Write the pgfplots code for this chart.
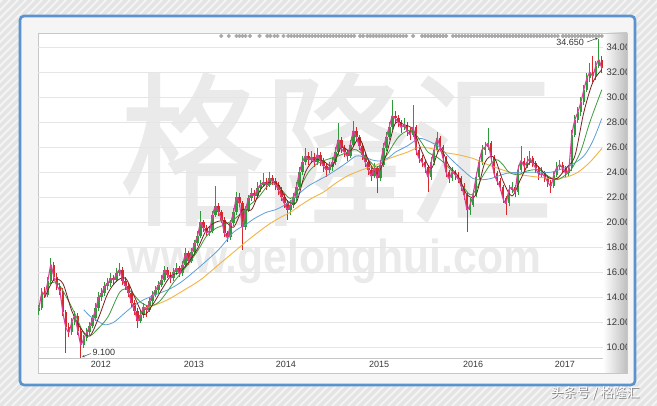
\documentclass[border=0pt]{standalone}
\usepackage{pgfplots}
\pgfplotsset{compat=1.18}
\usepackage{pgfplotstable}
\usepackage{fontspec}
\setmainfont{Liberation Sans}
\newfontfamily\cjk{Noto Sans CJK SC}
\newfontfamily\cjkwm{Noto Sans CJK SC}[FakeBold=1.2]
\usetikzlibrary{arrows.meta}
\definecolor{cRed}{HTML}{D42A2A}
\definecolor{cGreen}{HTML}{2E9B3A}
\definecolor{cPink}{HTML}{E43C9E}
\definecolor{cBrown}{HTML}{7A2020}
\definecolor{cMA}{HTML}{3E9A3E}
\definecolor{cBlue}{HTML}{5E9FD8}
\definecolor{cOrange}{HTML}{F2B544}
\definecolor{frameBlue}{HTML}{5B93CE}
\definecolor{bgGray}{HTML}{E4E4E4}
\definecolor{wm}{HTML}{EAEAEA}
\definecolor{dotGray}{HTML}{A8A8A8}

\pgfplotstableread{
k o h l c
0 12.9 13.4 12.6 13.1
1 13.1 14.7 13.0 14.4
2 14.4 14.8 13.9 14.2
3 14.2 15.6 14.0 15.3
4 15.3 17.1 15.1 16.6
5 16.6 16.8 15.3 15.6
6 15.6 15.9 14.6 14.9
7 14.9 15.1 14.2 14.5
8 14.5 14.7 12.5 12.8
9 12.8 13.0 9.5 11.6
10 11.6 11.9 10.8 11.2
11 11.2 12.3 11.0 12.0
12 12.0 12.9 11.8 12.5
13 12.5 12.7 11.0 11.3
14 11.3 11.5 9.1 10.2
15 10.2 11.0 9.9 10.7
16 10.7 11.5 10.5 11.2
17 11.2 12.0 11.0 11.7
18 11.7 12.6 11.5 12.3
19 12.3 13.5 12.1 13.1
20 13.1 14.4 12.9 14.0
21 14.0 14.7 13.7 14.3
22 14.3 15.2 14.1 14.9
23 14.9 15.5 14.6 15.1
24 15.1 15.9 14.8 15.5
25 15.5 15.8 15.0 15.4
26 15.4 16.3 15.2 15.9
27 15.9 16.7 15.7 16.2
28 16.2 16.4 15.0 15.3
29 15.3 15.6 14.6 14.9
30 14.9 15.1 14.0 14.3
31 14.3 14.5 13.2 13.5
32 13.5 13.8 12.6 12.9
33 12.9 13.1 11.5 12.1
34 12.1 12.9 11.9 12.6
35 12.6 13.5 12.3 13.2
36 13.2 13.4 12.4 13.0
37 13.0 14.0 12.8 13.7
38 13.7 14.5 13.4 14.2
39 14.2 14.9 14.0 14.6
40 14.6 15.3 14.3 15.0
41 15.0 15.8 14.8 15.4
42 15.4 16.5 15.2 16.2
43 16.2 16.4 15.5 15.8
44 15.8 16.0 15.1 15.5
45 15.5 16.3 15.3 16.0
46 16.0 16.7 15.8 16.3
47 16.3 16.5 15.6 15.9
48 15.9 16.9 15.7 16.6
49 16.6 17.9 16.4 17.5
50 17.5 17.7 16.6 16.9
51 16.9 17.9 16.7 17.6
52 17.6 18.6 17.4 18.3
53 18.3 19.3 18.1 18.9
54 18.9 20.9 18.7 20.0
55 20.0 20.2 19.2 19.5
56 19.5 19.8 18.9 19.2
57 19.2 19.7 18.9 19.3
58 19.3 20.9 19.1 20.6
59 20.6 22.9 20.4 21.3
60 21.3 21.5 20.5 20.8
61 20.8 21.0 19.9 20.2
62 20.2 20.4 18.8 19.1
63 19.1 19.3 18.4 18.8
64 18.8 20.2 18.6 19.9
65 19.9 21.1 19.7 20.8
66 20.8 22.4 20.6 22.0
67 22.0 22.3 21.2 21.5
68 21.5 21.7 17.8 19.6
69 19.6 21.3 19.4 21.0
70 21.0 22.2 20.8 21.9
71 21.9 22.7 21.7 22.3
72 22.3 22.6 21.7 22.1
73 22.1 23.2 21.9 22.7
74 22.7 23.4 22.4 23.0
75 23.0 23.9 22.8 23.2
76 23.2 23.5 22.6 23.0
77 23.0 24.0 22.8 23.5
78 23.5 23.8 23.0 23.3
79 23.3 23.5 22.6 23.0
80 23.0 23.2 22.2 22.6
81 22.6 22.8 21.7 22.0
82 22.0 22.3 21.1 21.5
83 21.5 21.8 20.2 21.0
84 21.0 21.8 20.6 21.4
85 21.4 22.3 21.1 21.9
86 21.9 23.2 21.7 22.8
87 22.8 24.4 22.6 24.0
88 24.0 25.3 23.8 24.8
89 24.8 25.9 24.6 25.3
90 25.3 25.6 24.6 25.0
91 25.0 25.7 24.7 25.2
92 25.2 25.5 24.4 24.8
93 24.8 25.9 24.6 25.4
94 25.4 25.6 24.5 24.9
95 24.9 25.1 24.0 24.5
96 24.5 24.7 23.6 24.2
97 24.2 24.8 23.9 24.4
98 24.4 25.2 24.1 24.8
99 24.8 26.0 24.6 25.6
100 25.6 27.9 25.4 26.6
101 26.6 26.8 25.5 25.9
102 25.9 26.2 25.2 25.6
103 25.6 25.8 24.9 25.3
104 25.3 26.6 25.1 26.2
105 26.2 28.1 26.0 27.3
106 27.3 27.6 26.5 26.8
107 26.8 27.0 25.8 26.1
108 26.1 26.3 25.0 25.4
109 25.4 25.6 24.4 24.8
110 24.8 25.0 23.8 24.2
111 24.2 24.4 23.3 23.7
112 23.7 24.7 23.5 24.3
113 24.3 24.5 22.3 23.5
114 23.5 25.0 23.3 24.6
115 24.6 26.3 24.4 25.9
116 25.9 27.2 25.7 26.8
117 26.8 28.0 26.6 27.6
118 27.6 29.8 27.4 28.5
119 28.5 28.9 27.9 28.3
120 28.3 28.6 27.6 28.0
121 28.0 28.2 27.1 27.6
122 27.6 28.3 27.4 27.8
123 27.8 28.0 26.9 27.3
124 27.3 27.5 26.6 27.0
125 27.0 29.4 26.8 27.6
126 27.6 27.8 25.4 25.8
127 25.8 26.0 24.7 25.1
128 25.1 25.4 24.4 24.8
129 24.8 25.0 23.9 24.4
130 24.4 24.6 22.4 23.6
131 23.6 25.2 23.4 24.8
132 24.8 26.2 24.6 25.8
133 25.8 27.2 25.6 26.7
134 26.7 26.9 25.7 26.0
135 26.0 26.2 24.8 25.1
136 25.1 25.3 23.6 24.0
137 24.0 24.2 23.1 23.5
138 23.5 24.4 23.3 24.0
139 24.0 24.2 23.4 23.8
140 23.8 24.0 23.1 23.5
141 23.5 23.7 22.5 22.9
142 22.9 23.1 21.8 22.2
143 22.2 22.4 19.2 21.0
144 21.0 21.9 20.6 21.4
145 21.4 22.6 21.2 22.2
146 22.2 24.0 22.0 23.6
147 23.6 25.2 23.4 24.8
148 24.8 26.2 24.6 25.8
149 25.8 26.4 25.4 26.0
150 26.0 27.5 25.8 26.3
151 26.3 26.5 24.8 25.2
152 25.2 25.4 23.6 23.9
153 23.9 24.1 23.0 23.3
154 23.3 23.5 22.5 22.8
155 22.8 23.0 21.5 21.9
156 21.9 22.1 20.6 21.5
157 21.5 23.0 21.3 22.6
158 22.6 23.2 22.3 22.8
159 22.8 23.0 22.0 22.4
160 22.4 24.6 22.2 24.2
161 24.2 26.1 24.0 24.9
162 24.9 25.1 24.1 24.5
163 24.5 25.3 24.3 24.8
164 24.8 25.7 24.6 25.1
165 25.1 25.3 24.4 24.7
166 24.7 24.9 23.9 24.3
167 24.3 24.5 23.4 23.8
168 23.8 24.4 23.6 23.9
169 23.9 24.1 23.2 23.6
170 23.6 23.8 22.8 23.2
171 23.2 23.4 22.3 22.9
172 22.9 24.1 22.7 23.8
173 23.8 24.8 23.6 24.4
174 24.4 25.0 24.2 24.6
175 24.6 24.8 23.9 24.3
176 24.3 24.5 23.6 23.9
177 23.9 24.6 23.7 24.3
178 24.3 27.4 24.1 27.0
179 27.0 28.6 26.8 28.2
180 28.2 29.2 27.9 28.8
181 28.8 30.0 28.5 29.6
182 29.6 31.0 29.4 30.6
183 30.6 31.9 30.4 31.5
184 31.5 32.7 31.2 32.0
185 32.0 33.3 31.2 31.7
186 31.7 32.9 31.4 32.5
187 32.5 34.65 32.3 33.0
188 33.0 33.3 31.9 32.3
}\candles

\begin{document}
\begin{tikzpicture}[x=1pt,y=1pt]
\clip (0,0) rectangle (657,406);
% page background with diagonal stripes
\fill[bgGray] (0,0) rectangle (657,406);
\foreach \i in {-420,-412,...,660} \draw[white, opacity=0.6, line width=1.8pt] (\i,0) -- ++(406,406);
% blue frame
\draw[frameBlue, line width=2.6pt, fill=black!4, rounded corners=4pt] (20,21) rectangle (635,390);
% plot area, label strips
\fill[white] (38,33) rectangle (603,373);
\shade[left color=white, right color=black!25] (603,33) rectangle (627,373);
\draw[black!22, line width=0.5pt] (38,33) rectangle (627,373);
\draw[black!22, line width=0.5pt] (38,48) -- (603,48);
% watermark
\node[text=wm, inner sep=0pt] at (336.5,257) {\scalebox{0.875}[1]{\fontsize{165pt}{165pt}\selectfont\cjkwm 格隆汇}};
\node[text=wm, inner sep=0pt, anchor=base] at (334.5,132) {\scalebox{1}[1.12]{\resizebox{413pt}{!}{\bfseries www.gelonghui.com}}};
% caption
\node[text=black!50] at (596,12.2) {\fontsize{13}{13}\selectfont\cjk 头条号 / 格隆汇};
\node[text=white] at (595.2,13) {\fontsize{13}{13}\selectfont\cjk 头条号 / 格隆汇};
\begin{scope}
\clip (0,0) rectangle (626,406);
\begin{axis}[
  at={(38pt,48pt)}, anchor=south west, scale only axis,
  width=565pt, height=325pt,
  xmin=-0.3, xmax=188.4, ymin=9.14, ymax=35.14,
  axis line style={draw=none},
  tick style={draw=none},
  ytick={10,12,...,34}, yticklabel pos=right,
  ymajorgrids, grid style={draw=black!10, line width=0.5pt},
  yticklabel style={font=\fontsize{9.5}{10}\selectfont, text=black!78,
    /pgf/number format/.cd, fixed, fixed zerofill, precision=2, assume math mode=true},
  xtick={20.74,51.8,82.5,113.6,145.0,175.7},
  xticklabels={2012,2013,2014,2015,2016,2017},
  xticklabel style={font=\fontsize{9}{10}\selectfont, text=black!78},
  clip=true,
]
% event dots along top
\addplot[dotGray, only marks, mark=*, mark size=1.9pt, mark options={draw=dotGray, fill=dotGray}] coordinates {
(60.9,34.9)(63.4,34.9)(66,34.9)(67,34.9)(68,34.9)(69,34.9)(70.5,34.9)(73.7,34.9)(76.3,34.9)(77.3,34.9)(78.7,34.9)(79.7,34.9)(81.7,34.9)
(83.3,34.9)(84.3,34.9)(85.3,34.9)(86.3,34.9)(87.3,34.9)(88.3,34.9)(89.3,34.9)(90.3,34.9)(91.3,34.9)(92.3,34.9)(93.3,34.9)(94.3,34.9)
(95.3,34.9)(96.3,34.9)(97.3,34.9)(98.3,34.9)(99.3,34.9)(100.3,34.9)(101.3,34.9)(102.3,34.9)(103.3,34.9)(104.3,34.9)(105.3,34.9)
(107.3,34.9)(108.3,34.9)(109.7,34.9)(110.7,34.9)(111.7,34.9)(112.7,34.9)(113.7,34.9)(114.7,34.9)(115.7,34.9)(116.7,34.9)(117.7,34.9)
(118.7,34.9)(119.7,34.9)(120.7,34.9)(121.7,34.9)(122.7,34.9)(125,34.9)(128,34.9)(129,34.9)(130,34.9)(131,34.9)(132,34.9)(133,34.9)
(134,34.9)(135,34.9)(136,34.9)(138.3,34.9)(139.3,34.9)(140.3,34.9)(141.3,34.9)(142.3,34.9)(143.3,34.9)(144.3,34.9)(145.3,34.9)
(146.3,34.9)(147.3,34.9)(148.3,34.9)(149.3,34.9)(150.3,34.9)(151.3,34.9)(152.3,34.9)(153.3,34.9)(154.3,34.9)(155.3,34.9)(156.3,34.9)
(157.3,34.9)(158.3,34.9)(159.3,34.9)(160.3,34.9)(161.3,34.9)(162.3,34.9)(163.3,34.9)(164.3,34.9)(165.3,34.9)(166.3,34.9)(167.3,34.9)
(168.3,34.9)(169.3,34.9)(170.3,34.9)(171.3,34.9)(172.3,34.9)(173.3,34.9)(175,34.9)(176,34.9)(177,34.9)(178,34.9)(179,34.9)(180,34.9)
(181,34.9)(182,34.9)(183,34.9)(184,34.9)(185,34.9)(186,34.9)(187,34.9)(188,34.9)};
% candle wicks
\addplot[draw=none, mark=none, forget plot,
  restrict expr to domain={\thisrow{c}-\thisrow{o}}{-50:-0.001},
  error bars/.cd, y dir=both, y explicit, error mark=none,
  error bar style={draw=cRed, line width=0.9pt}]
  table[x=k, y=c, y error plus expr={\thisrow{h}-\thisrow{c}}, y error minus expr={\thisrow{c}-\thisrow{l}}] {\candles};
\addplot[draw=none, mark=none, forget plot,
  restrict expr to domain={\thisrow{c}-\thisrow{o}}{0.001:50},
  error bars/.cd, y dir=both, y explicit, error mark=none,
  error bar style={draw=cGreen, line width=0.9pt}]
  table[x=k, y=c, y error plus expr={\thisrow{h}-\thisrow{c}}, y error minus expr={\thisrow{c}-\thisrow{l}}] {\candles};
% candle bodies
\addplot[draw=none, mark=none, forget plot,
  restrict expr to domain={\thisrow{c}-\thisrow{o}}{-50:-0.001},
  error bars/.cd, y dir=plus, y explicit, error mark=none,
  error bar style={draw=cRed, line width=2.6pt}]
  table[x=k, y=c, y error plus expr={\thisrow{o}-\thisrow{c}}] {\candles};
\addplot[draw=none, mark=none, forget plot,
  restrict expr to domain={\thisrow{c}-\thisrow{o}}{0.001:50},
  error bars/.cd, y dir=minus, y explicit, error mark=none,
  error bar style={draw=cGreen, line width=2.6pt}]
  table[x=k, y=c, y error minus expr={\thisrow{c}-\thisrow{o}}] {\candles};
% moving averages
\addplot[cOrange, line width=0.9pt, smooth] coordinates {
(35,13.1)(39,13.4)(43,13.8)(48,14.5)(54,15.4)(60,16.6)(65,17.6)(70,18.6)(76,19.7)(80,20.3)(84,20.8)(87,21.3)(91,21.9)(95,22.4)(99,23.1)(103,23.7)(108,24.2)(112,24.5)(117,25.1)(123,25.6)(127,26.0)(131,25.9)(135,25.6)(140,25.4)(145,25.1)(150,24.6)(156,24.1)(161,23.8)(167,23.6)(172,23.5)(176,23.6)(180,24.0)(184,24.8)(188,25.9)};
\addplot[cBlue, line width=0.8pt, smooth] coordinates {
(15,13.0)(17,12.5)(19,12.2)(22,11.8)(25,12.0)(28,12.6)(31,13.2)(35,13.8)(40,14.3)(44,14.7)(48,15.3)(54,16.5)(60,17.8)(65,19.2)(69,19.8)(72,20.3)(76,20.8)(79,21.0)(83,21.5)(86,22.1)(90,22.9)(96,23.7)(100,24.3)(103,24.8)(106,25.3)(109,25.2)(111,25.0)(114,24.9)(117,25.2)(119,25.6)(123,26.1)(127,26.7)(130,26.5)(134,26.0)(137,25.2)(141,24.3)(145,23.5)(148,23.4)(151,23.5)(156,23.9)(161,24.0)(167,24.0)(171,24.0)(175,24.3)(178,24.6)(182,25.3)(185,26.5)(188,28.3)};
\addplot[cMA, line width=0.8pt, smooth] coordinates {
(3,15.0)(6,15.2)(9,14.1)(12,12.7)(15,11.1)(17,10.9)(19,11.3)(23,12.4)(27,14.4)(30,14.6)(34,13.6)(37,13.3)(40,13.6)(43,14.5)(45,15.2)(48,16.1)(51,17.0)(54,18.1)(56,18.9)(59,19.5)(62,19.8)(65,20.2)(67,20.6)(70,21.3)(73,21.9)(76,22.8)(78,23.1)(81,22.6)(84,21.9)(87,22.7)(90,24.0)(93,24.7)(96,25.0)(100,25.3)(103,25.6)(106,25.8)(110,25.0)(113,24.4)(116,25.3)(120,26.8)(123,27.3)(125,27.3)(128,26.3)(130,25.6)(133,25.2)(136,24.6)(139,23.8)(141,23.1)(144,22.2)(146,22.6)(148,23.6)(151,24.7)(153,25.0)(155,24.6)(157,24.0)(160,23.8)(163,24.1)(167,24.2)(170,23.7)(173,23.4)(176,23.8)(178,24.3)(181,25.7)(184,28.0)(188,30.6)};
\addplot[cBrown, line width=0.8pt, smooth] coordinates {
(2,14.0)(5,15.4)(8,15.1)(11,12.9)(14,11.5)(17,10.9)(20,12.4)(23,14.3)(26,15.3)(29,15.5)(32,14.0)(35,12.6)(38,13.4)(41,14.6)(44,15.7)(47,16.0)(50,16.8)(53,17.9)(56,19.4)(59,20.0)(62,20.1)(65,19.6)(68,21.0)(71,21.0)(74,22.6)(77,23.2)(80,23.0)(83,21.7)(86,21.6)(89,24.0)(92,25.0)(95,24.9)(98,24.5)(101,26.0)(104,25.7)(107,26.7)(110,25.0)(113,23.9)(116,25.4)(119,27.9)(122,27.8)(125,27.4)(128,25.6)(131,24.3)(134,25.9)(137,24.5)(140,23.7)(143,22.2)(146,22.2)(149,24.8)(152,25.2)(155,23.3)(158,22.1)(161,23.5)(164,24.8)(167,24.4)(170,23.6)(173,23.5)(176,24.3)(179,25.3)(182,28.8)(185,31.2)(188,32.2)};
% short average line over the price
\addplot[cPink, line width=1.1pt, smooth, tension=0.3] table[x=k, y=c] {\candles};
% annotations
\node[anchor=west, inner sep=0pt, font=\fontsize{9}{10}\selectfont, text=black!80] at (axis cs:17.9,9.62) {9.100};
\draw[black!70, line width=0.5pt, -{Stealth[length=3pt,width=2.5pt]}] (axis cs:17.4,9.5) -- (axis cs:14.4,9.22);
\node[anchor=east, inner sep=0pt, font=\fontsize{9}{10}\selectfont, text=black!80] at (axis cs:182.1,34.42) {34.650};
\draw[black!70, line width=0.5pt, -{Stealth[length=3pt,width=2.5pt]}] (axis cs:183.1,34.42) -- (axis cs:186.7,34.74);
\end{axis}
\end{scope}
\end{tikzpicture}
\end{document}
